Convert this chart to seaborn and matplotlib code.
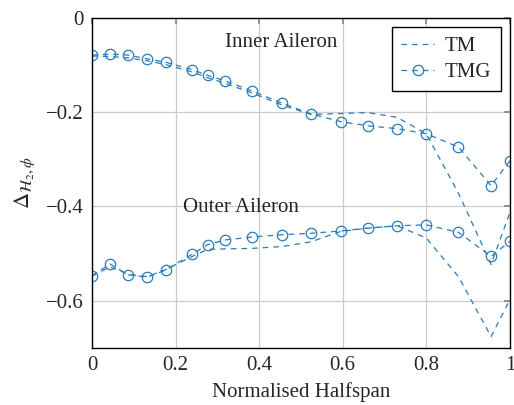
import numpy as np
import pandas as pd
import matplotlib
matplotlib.use("Agg")
import matplotlib.pyplot as plt
from matplotlib.lines import Line2D
import seaborn as sns

halfspan = [0.0, 0.043, 0.087, 0.132, 0.176, 0.24, 0.277, 0.319, 0.382, 0.455,
            0.524, 0.595, 0.66, 0.73, 0.8, 0.877, 0.955, 1.0]

inner_tmg = [-0.079, -0.077, -0.079, -0.087, -0.094, -0.110, -0.122, -0.134, -0.155, -0.181,
             -0.204, -0.220, -0.229, -0.235, -0.246, -0.274, -0.356, -0.303]
inner_tm = [-0.081, -0.082, -0.085, -0.091, -0.099, -0.115, -0.127, -0.139, -0.159, -0.185,
            -0.205, -0.203, -0.201, -0.211, -0.246, -0.372, -0.523, -0.413]
outer_tmg = [-0.547, -0.522, -0.545, -0.550, -0.535, -0.501, -0.481, -0.471, -0.465, -0.460,
             -0.457, -0.452, -0.446, -0.441, -0.439, -0.455, -0.506, -0.474]
outer_tm = [-0.548, -0.528, -0.544, -0.549, -0.534, -0.506, -0.491, -0.490, -0.489, -0.485,
            -0.475, -0.453, -0.446, -0.441, -0.467, -0.549, -0.676, -0.598]

xticks = [0, 0.2, 0.4, 0.6, 0.8, 1]
xticklabels = ["0", "0.2", "0.4", "0.6", "0.8", "1"]
yticks = [0, -0.2, -0.4, -0.6]
yticklabels = ["0", "\u22120.2", "\u22120.4", "\u22120.6"]

rows = []
for name, method, vals in [("Inner", "TM", inner_tm), ("Inner", "TMG", inner_tmg),
                           ("Outer", "TM", outer_tm), ("Outer", "TMG", outer_tmg)]:
    for x, v in zip(halfspan, vals):
        rows.append({"halfspan": x, "delta": v, "method": method, "aileron": name})
df = pd.DataFrame(rows)

sns.set_theme(style="white")
plt.rcParams["font.family"] = ["Liberation Serif", "DejaVu Serif"]
plt.rcParams["mathtext.fontset"] = "stix"

blue = "#2b7bbb"
fig = plt.figure(figsize=(5.14, 4.05), dpi=100)
ax = fig.add_axes([0.179, 0.141, 0.813, 0.815])

for (ail, meth), sub in df.groupby(["aileron", "method"]):
    sns.lineplot(data=sub, x="halfspan", y="delta", ax=ax, sort=False, estimator=None,
                 color=blue, lw=0.9, dashes=False,
                 marker="o" if meth == "TMG" else None,
                 markersize=7.5, markerfacecolor="none", markeredgecolor=blue,
                 markeredgewidth=0.9, legend=False)
for line in ax.get_lines():
    line.set_linestyle((0, (4.5, 4)))

ax.set_xlim(0, 1)
ax.set_ylim(-0.7, 0)
ax.set_xticks(xticks)
ax.set_xticklabels(xticklabels)
ax.set_yticks(yticks)
ax.set_yticklabels(yticklabels)
ax.grid(True, color="#cccccc", lw=0.9)
ax.tick_params(direction="in", length=4, color="#888888", labelsize=15, pad=6,
               top=True, right=True)
for s in ax.spines.values():
    s.set_color("black")
    s.set_linewidth(1.0)
    s.set_visible(True)

ax.set_xlabel("Normalised Halfspan", fontsize=15, labelpad=5)
ax.set_ylabel(r"$\Delta_{\mathcal{H}_2,\phi}$", fontsize=16, labelpad=6)

ax.text(0.452, -0.053, "Inner Aileron", fontsize=15, ha="center", va="center")
ax.text(0.357, -0.403, "Outer Aileron", fontsize=15, ha="center", va="center")

handles = [Line2D([], [], color=blue, lw=0.9, ls=(0, (4.5, 4))),
           Line2D([], [], color=blue, lw=0.9, ls=(0, (4.5, 4)), marker="o",
                  markersize=7.5, markerfacecolor="none", markeredgewidth=0.9)]
leg = ax.legend(handles, ["TM", "TMG"], loc="upper right", fontsize=15,
                fancybox=False, edgecolor="black", framealpha=1,
                handlelength=1.6, borderaxespad=0.45, labelspacing=0.3,
                borderpad=0.45, handletextpad=0.5)
leg.get_frame().set_linewidth(1.0)

fig.savefig("out.png", dpi=100)
